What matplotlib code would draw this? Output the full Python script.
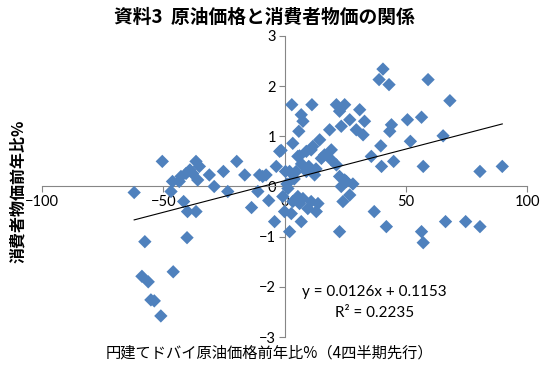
import matplotlib
matplotlib.use("Agg")
import matplotlib.pyplot as plt
import numpy as np

# data
oil_yoy = [
    -62.0, -57.6, -58.8, -56.2, -55.1, -53.7, -51.0, -45.9, -40.2,
    -50.4, -46.8, -41.6, -40.0, -36.5, -46.2, -42.7, -40.6, -36.5, -35.1, -37.9,
    -35.8, -43.4, -39.0, -31.0, -29.0, -25.2, -23.4, -19.7, -16.4, -13.6,
    -10.3, -11.0, -7.6, -6.5, -4.1, -3.4, -2.0, -1.4, 0.4, -9.0,
    1.4, -0.7, 0.0, 2.8, 2.1, 6.2, 7.6, 11.0, 13.8, 9.6,
    13.1, 6.9, 5.5, 3.4, 22.7, 24.1, 26.9, 23.4, 24.8, 28.2,
    37.0, 42.0, 56.5, 57.2, 66.4, 74.7, 80.6,
    3.0, 11.3, 6.9, 7.6, 5.9, 3.4, 18.6, 21.4, 24.8, 22.7,
    26.9, 23.4, 31.0, 33.0, 29.6, 32.4, 14.5, 11.7, 9.0, 5.5,
    16.5, 15.2, 19.3, 21.4, 19.3, 2.1, 4.8, 9.0, 12.4, 22.7,
    25.5, 35.8, 6.2, 11.0, 7.0, 10.0, 13.0, 4.0, 1.0,
    40.6, 39.0, 43.1, 59.2, 68.2, 50.7, 56.5, 44.1, 43.4, 65.4,
    51.9, 39.7, 45.0, 40.0, 57.2, 80.6, 89.8,
]
cpi_yoy = [
    -0.12, -1.10, -1.79, -1.90, -2.26, -2.28, -2.58, -1.70, -1.02,
    0.50, -0.10, -0.30, -0.50, -0.50, 0.10, 0.20, 0.26, 0.50, 0.40, 0.26,
    0.13, 0.10, 0.33, 0.23, 0.00, 0.30, -0.10, 0.50, 0.23, -0.42,
    0.23, -0.10, 0.23, -0.28, -0.70, 0.40, 0.70, 0.72, 0.30, 0.20,
    -0.04, -0.20, -0.50, -0.54, -0.90, -0.34, -0.24, -0.30, -0.34, -0.44,
    -0.50, -0.70, -0.20, -0.30, -0.90, -0.30, -0.17, 0.00, 0.13, 0.05,
    -0.50, -0.80, -0.90, -1.12, -0.70, -0.70, -0.80,
    1.63, 1.63, 1.43, 1.30, 1.10, 0.86, 1.13, 1.63, 1.63, 1.50,
    1.33, 1.20, 1.53, 1.30, 1.13, 1.03, 0.93, 0.80, 0.70, 0.60,
    0.63, 0.56, 0.53, 0.43, 0.73, 0.30, 0.30, 0.30, 0.23, 0.20,
    0.10, 0.60, 0.61, 0.73, 0.45, 0.40, 0.35, 0.15, 0.05,
    2.34, 2.13, 2.03, 2.13, 1.71, 1.33, 1.38, 1.23, 1.10, 1.01,
    0.90, 0.81, 0.50, 0.40, 0.40, 0.30, 0.40,
]
slope = 0.0126
intercept = 0.1153
r2 = 0.2235
x_ticks = [-100, -50, 0, 50, 100]
y_ticks = [-3, -2, -1, 0, 1, 2, 3]

title = "資料3  原油価格と消費者物価の関係"
xlabel = "円建てドバイ原油価格前年比%（4四半期先行）"
ylabel = "消費者物価前年比%"

jp = ["Noto Sans CJK JP", "DejaVu Sans"]
num = ["Lato", "DejaVu Sans"]

fig = plt.figure(figsize=(5.5, 3.67), dpi=100)
ax = fig.add_axes([0.0764, 0.0817, 0.9582 - 0.0764, 0.902 - 0.0817])

ax.scatter(oil_yoy, cpi_yoy, marker="D", s=6.8**2, color="#4F81BD",
           edgecolors="none", zorder=3)

xx = np.array([min(oil_yoy), max(oil_yoy)])
ax.plot(xx, slope * xx + intercept, color="black", lw=0.8, zorder=4)

ax.set_xlim(-100, 100)
ax.set_ylim(-3, 3)
ax.set_xticks(x_ticks)
ax.set_yticks(y_ticks)
ax.spines["left"].set_position(("data", 0))
ax.spines["bottom"].set_position(("data", 0))
ax.spines["top"].set_visible(False)
ax.spines["right"].set_visible(False)
for s in ("left", "bottom"):
    ax.spines[s].set_color("#868686")
    ax.spines[s].set_linewidth(0.8)
ax.tick_params(axis="both", direction="out", length=4, width=0.8,
               color="#868686", labelsize=10.5, labelcolor="black", pad=2)
for lab in ax.get_xticklabels() + ax.get_yticklabels():
    lab.set_family(num)

fig.text(0.48, 0.953, title, ha="center", va="center", fontsize=13.5,
         fontweight="bold", family=jp)
fig.text(0.49, 0.037, xlabel, ha="center", va="center", fontsize=11,
         family=jp)
fig.text(0.033, 0.48, ylabel, ha="center", va="center", fontsize=11.5,
         fontweight="bold", rotation=90, family=jp)

ax.text(37, -2.11, f"y = {slope}x + {intercept}", ha="center", va="center",
        fontsize=11, family=num)
ax.text(37, -2.53, f"R² = {r2}", ha="center", va="center",
        fontsize=11, family=num)

fig.savefig("out.png", dpi=100)
